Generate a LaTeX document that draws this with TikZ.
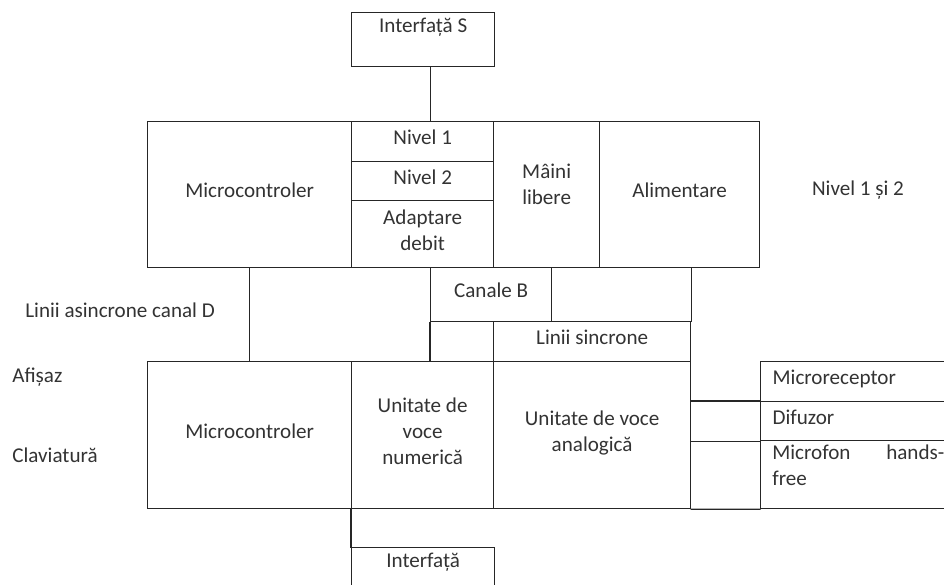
\documentclass[tikz,border=0pt]{standalone}
\usepackage{fontspec}
\setmainfont{Carlito}
\usetikzlibrary{positioning}
\tikzset{cell/.style={rectangle,draw=black!85,line width=0.75pt,anchor=north west,inner sep=2pt,align=center,text=black!80,text depth=0.17cm},
         side cell/.style={cell,align=left,text width=3.44cm,inner xsep=0.24cm},
         text label/.style={rectangle,draw=none,fill=none,inner sep=0pt,text=black!80},
         wire/.style={draw=black!85,line width=0.75pt,line cap=rect},
}
\begin{document}
\begin{tikzpicture}[font=\fontsize{12}{14.8}\selectfont]

% \draw[help lines] (0,0) grid (19,-12);
\useasboundingbox (0,0) rectangle (18.88,-11.68);

\node[cell,minimum width=2.86cm,minimum height=1.08cm,
      label={[text label,anchor=north,yshift=-0.12cm]north:Interfață S}] (intS) at (7.02,-0.24) {};

% first row
\node[cell,minimum width=4.08cm,minimum height=2.92cm] (mc1) at (2.94,-2.42) {Microcontroler};
\node[cell,minimum width=2.84cm,minimum height=0.80cm] (niv1) at (7.02,-2.42) {Nivel 1};
\node[cell,minimum width=2.84cm,minimum height=0.78cm] (niv2) at (7.02,-3.22) {Nivel 2};
\node[cell,minimum width=2.84cm,minimum height=1.34cm] (adapt) at (7.02,-4.00) {Adaptare\\debit};
\node[cell,minimum width=2.12cm,minimum height=2.92cm,text depth=0.43cm] (maini) at (9.86,-2.42) {Mâini\\libere};
\node[cell,minimum width=3.20cm,minimum height=2.92cm] (alim) at (11.98,-2.42) {Alimentare};
\node[text label] (niv12) at (17.16,-3.80) {Nivel 1 și 2};

% middle
\node[cell,minimum width=2.42cm,minimum height=1.08cm] (canB) at (8.60,-5.34) {Canale B};
\node[cell,minimum width=3.94cm,minimum height=0.80cm] (sinc) at (9.86,-6.42) {Linii sincrone};
\node[text label,anchor=west] (asinc) at (0.50,-6.20) {Linii asincrone canal D};

% second row
\node[cell,minimum width=4.08cm,minimum height=2.94cm] (mc2) at (2.94,-7.22) {Microcontroler};
\node[cell,minimum width=2.84cm,minimum height=2.94cm] (numeric) at (7.02,-7.22) {Unitate de\\voce\\numerică};
\node[cell,minimum width=3.94cm,minimum height=2.94cm] (analog) at (9.86,-7.22) {Unitate de voce\\analogică};
\node[text label,anchor=west] (afis) at (0.24,-7.54) {Afișaz};
\node[text label,anchor=west] (clav) at (0.24,-9.10) {Claviatură};

\node[side cell,minimum height=0.80cm] (mrec) at (15.20,-7.22) {Microreceptor};
\node[side cell,minimum height=0.78cm] (dif) at (15.20,-8.02) {Difuzor};
\node[cell,minimum width=3.92cm,minimum height=1.36cm,
      label={[text label,anchor=north west,text width=3.44cm,align=left,xshift=0.24cm,yshift=-0.08cm]north west:Microfon\hfill hands-\\free}] (mic) at (15.20,-8.80) {};

\node[cell,minimum width=2.86cm,minimum height=1.20cm,
      label={[text label,anchor=north,yshift=-0.12cm]north:Interfață}] (ifc) at (7.02,-10.94) {};

\draw[wire] ([xshift=.15cm]intS.south) -- ([xshift=.15cm]intS.south |- niv1.north);
\draw[wire] (mc1.south) -- (mc2.north);
\draw[wire] (canB.south west) -- (canB.south west |- numeric.north);
\draw[wire] (alim.south -| sinc.east) -- (sinc.north east);
\draw[wire] (dif.north west -| analog.east) -- (dif.north west);
\draw[wire] (dif.south west -| analog.east) -- (dif.south west);
\draw[wire] (analog.south east) -- (mic.south west);
\draw[wire] (numeric.south west) -- (ifc.north west);
\end{tikzpicture}
\end{document}
